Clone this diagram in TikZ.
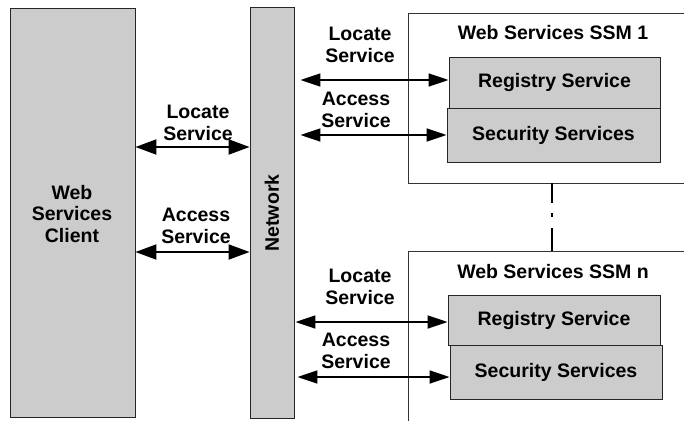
\documentclass[tikz,border=0pt]{standalone}
\usepackage{fontspec}
\setmainfont{Liberation Sans}
\usetikzlibrary{arrows.meta}
\begin{document}
\begin{tikzpicture}[x=1pt,y=-1pt,
  every node/.style={font=\fontsize{19.5}{21.5}\selectfont\bfseries, inner sep=0pt, align=center},
  grayblock/.style={draw=black!85, line width=0.9pt, fill=black!20, rectangle},
  ssmbox/.style={draw=black!80, line width=0.8pt, fill=white, rectangle},
  bigarr/.style={line width=2pt, {Triangle[length=21pt,width=15pt]}-{Triangle[length=21pt,width=15pt]}},
  smallarr/.style={line width=1.7pt, {Triangle[length=20pt,width=13pt]}-{Triangle[length=20pt,width=13pt]}}
]
\clip (0,0) rectangle (684,420);
\fill[white] (0,0) rectangle (684,420);

\node[grayblock, minimum width=125pt, minimum height=409pt] (client) at (72.5,212.5) {};
\node at (72,214) {Web\\Services\\Client};
\node[grayblock, minimum width=44pt, minimum height=411pt] (network) at (272,212.5) {};
\node[rotate=90] at (272,213) {Network};

\node[ssmbox, minimum width=292pt, minimum height=170pt] (ssm1) at (554,98) {};
\node[ssmbox, minimum width=292pt, minimum height=189pt] (ssmn) at (554,345.5) {};
\node (t1) at (553,33) {Web Services SSM 1};
\node (tn) at (553,272) {Web Services SSM n};

\node[grayblock, minimum width=211pt, minimum height=51pt] (reg1) at (554.5,82.5) {Registry Service};
\node[grayblock, minimum width=213pt, minimum height=54pt] (sec1) at (553.5,135) {Security Services};
\node[grayblock, minimum width=212pt, minimum height=50pt] (regn) at (554,320) {Registry Service};
\node[grayblock, minimum width=212pt, minimum height=54pt] (secn) at (556,372) {Security Services};

% left arrows
\coordinate (yl1) at (0,147);
\coordinate (yl2) at (0,252);
\draw[bigarr] (client.east |- yl1) -- (network.west |- yl1);
\draw[bigarr] (client.east |- yl2) -- (network.west |- yl2);
\node at (198,123) {Locate\\Service};
\node at (196,226) {Access\\Service};

% right arrows top
\coordinate (yr1) at (0,80);
\coordinate (yr2) at (0,135);
\draw[smallarr, shorten <=6pt] (network.east |- yr1) -- (reg1.west |- yr1);
\draw[smallarr, shorten <=6pt] (network.east |- yr2) -- (sec1.west |- yr2);
\node at (360,45) {Locate\\Service};
\node at (356,110) {Access\\Service};

% right arrows bottom
\coordinate (yr3) at (0,322);
\coordinate (yr4) at (0,377);
\draw[smallarr, shorten <=1pt] (network.east |- yr3) -- (regn.west |- yr3);
\draw[smallarr, shorten <=3pt] (network.east |- yr4) -- (secn.west |- yr4);
\node at (360,287) {Locate\\Service};
\node at (356,351) {Access\\Service};

% dash-dot connector
\draw[line width=1.6pt, dash pattern=on 20pt off 10pt on 3.5pt off 11pt on 30pt] (ssm1.south -| 552,0) -- (ssmn.north -| 552,0);
\end{tikzpicture}
\end{document}
